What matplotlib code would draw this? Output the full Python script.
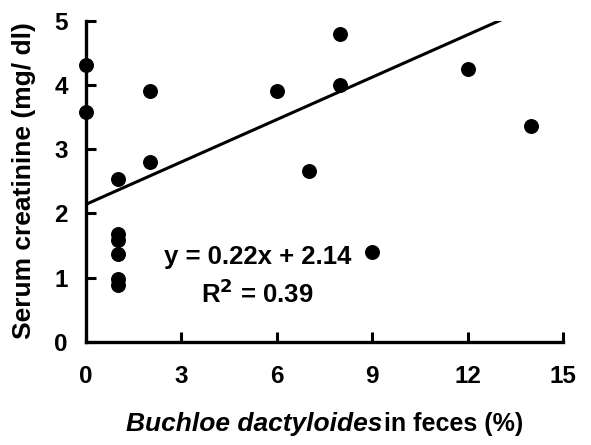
import matplotlib
matplotlib.use("Agg")
import matplotlib.pyplot as plt
import numpy as np

plt.rcParams['font.family'] = ['Liberation Sans', 'DejaVu Sans']

x_vals = [0, 0, 1, 1, 1, 1, 1, 1, 2, 2, 6, 7, 8, 8, 9, 12, 14]
y_vals = [4.31, 3.58, 2.53, 1.68, 1.58, 1.37, 0.97, 0.88, 3.91, 2.80, 3.91, 2.66, 4.80, 4.00, 1.40, 4.24, 3.36]
slope, intercept = 0.22, 2.14
fit_x = [0, 13.5]
xticks = [0, 3, 6, 9, 12, 15]
yticks = [0, 1, 2, 3, 4, 5]

FS = 17.5
LFS = 19

fig = plt.figure(figsize=(5.91, 4.45), dpi=100)
ax = fig.add_axes([0.1455, 0.2321, 0.8071, 0.7214])
ax.scatter(x_vals, y_vals, s=95, color='black', zorder=3, clip_on=False)
fx = np.array(fit_x)
ax.plot(fx, slope * fx + intercept, color='black', lw=2.2, zorder=2)
ax.set_xlim(0, 15)
ax.set_ylim(0, 5)
ax.set_xticks(xticks)
ax.set_yticks(yticks)
for s in ['top', 'right']:
    ax.spines[s].set_visible(False)
for s in ['left', 'bottom']:
    ax.spines[s].set_linewidth(2.4)
ax.tick_params(direction='in', length=7, width=2.2, labelsize=FS)
ax.tick_params(axis='x', pad=17)
ax.tick_params(axis='y', pad=13)
for lab in ax.get_xticklabels() + ax.get_yticklabels():
    lab.set_fontweight('bold')

ax.text(5.39, 1.32, 'y = 0.22x + 2.14', ha='center', va='center', fontsize=18.5, fontweight='bold')
ax.text(5.39, 0.74, r'R$^\mathbf{2}$ = 0.39', ha='center', va='center', fontsize=18.5, fontweight='bold')

fig.text(24 / 591, 1 - 181 / 445, 'Serum creatinine (mg/ dl)', rotation=90, ha='center', va='center',
         fontsize=LFS, fontweight='bold')
fig.text(382 / 591, 21 / 445, 'Buchloe dactyloides', ha='right', va='center', fontsize=LFS,
         fontweight='bold', fontstyle='italic')
fig.text(384 / 591, 21 / 445, 'in feces (%)', ha='left', va='center', fontsize=18, fontweight='bold')

fig.savefig('out.png', dpi=100)
